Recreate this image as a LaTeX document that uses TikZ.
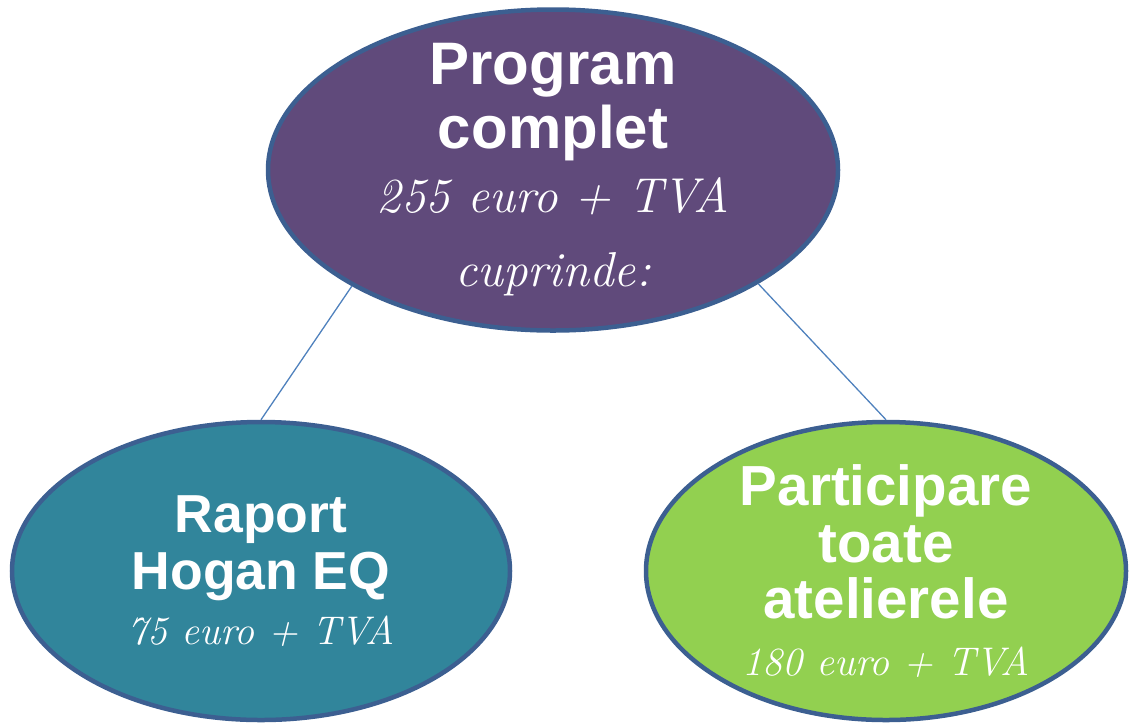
\documentclass[tikz,border=0pt]{standalone}
\usepackage{fontspec}
\setsansfont{Liberation Sans}
\usetikzlibrary{shapes.geometric}
\definecolor{MyPurple}{RGB}{96,74,123}
\definecolor{MyTeal}{RGB}{49,133,155}
\definecolor{MyGreen}{RGB}{146,208,80}
\definecolor{MyEdge}{RGB}{60,95,145}
\definecolor{MyLink}{RGB}{79,129,189}

\newcommand{\headA}{\sffamily\bfseries\fontsize{60}{64}\selectfont}
\newcommand{\handA}{\rmfamily\itshape\fontsize{49}{64}\selectfont}
\newcommand{\headB}{\sffamily\bfseries\fontsize{53.5}{56}\selectfont}
\newcommand{\headC}{\sffamily\bfseries\fontsize{56.5}{56}\selectfont}
\newcommand{\handB}{\rmfamily\itshape\fontsize{40}{56}\selectfont}

\begin{document}
\begin{tikzpicture}[x=1pt, y=-1pt]
    \tikzstyle{bubble} = [draw=MyEdge, line width=4.5pt, ellipse, inner sep=0pt]
    \tikzstyle{txt} = [text=white, align=center, inner sep=0pt]
    \tikzstyle{link} = [draw=MyLink, line width=1.3pt]
    \useasboundingbox (0,0) rectangle (1129,724);

    \node[bubble, fill=MyPurple, minimum width=570pt, minimum height=321pt] (prog) at (553,170) {};
    \node[bubble, fill=MyTeal, minimum width=498pt, minimum height=298pt] (rap) at (261,571) {};
    \node[bubble, fill=MyGreen, minimum width=480pt, minimum height=298pt] (part) at (886,571) {};

    \node[txt, font=\fontsize{10}{64}\selectfont] (progtxt) at (prog.center)
        {\headA Program\\\headA complet\\\handA 255 euro + TVA\\[10pt]\handA cuprinde:};
    \node[txt, font=\fontsize{10}{55}\selectfont] (raptxt) at (rap.center)
        {\headB Raport\\[2pt]\headB Hogan EQ\\\handB 75 euro + TVA};
    \node[txt, font=\fontsize{10}{56.5}\selectfont] (parttxt) at (part.center)
        {\headC Participare\\\headC toate\\\headC atelierele\\\handB 180 euro + TVA};

    \draw[link] (prog.210) -- (rap.north);
    \draw[link] (prog.331) -- (part.north);
\end{tikzpicture}
\end{document}
